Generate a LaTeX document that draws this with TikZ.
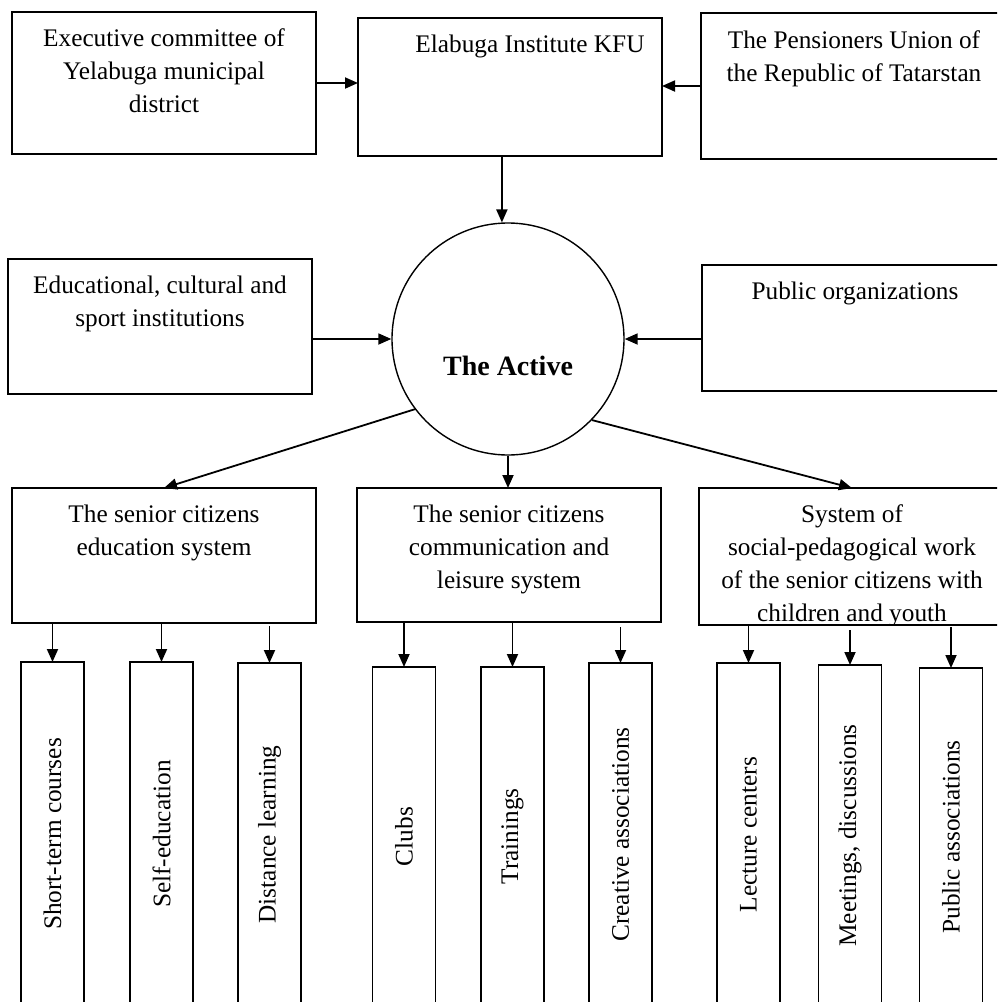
\documentclass[tikz,border=0pt]{standalone}
\usepackage{fontspec}
\setmainfont{Liberation Serif}
\usetikzlibrary{arrows.meta,calc}
\newcommand{\bxt}[4]{\parbox[t][#2][t]{#1}{\centering\rule{0pt}{#3}#4}}
\begin{document}
\begin{tikzpicture}[x=1pt,y=-1pt,
  txt/.style={font=\fontsize{25.3}{33}\selectfont},
  box/.style={draw, line width=1.8pt, inner sep=0pt, outer sep=0pt, anchor=north west, txt},
  vbox/.style={draw, line width=1.8pt, inner sep=0pt, outer sep=0pt, rotate=90, minimum height=63pt, txt},
  arr/.style={line width=1.8pt, -{Triangle[length=13pt,width=11pt]}}
]
\useasboundingbox (0,0) rectangle (997,1002);
\clip (0,0) rectangle (997,1002);

% top row
\node[box] (A) at (12,12) {\bxt{304pt}{142pt}{34pt}{Executive committee of\\Yelabuga municipal\\district}};
\node[box] (B) at (358,18) {\bxt{304pt}{138pt}{34pt}{\hspace*{40pt}Elabuga Institute KFU}};
\node[box] (C) at (701,13) {\bxt{306pt}{146pt}{35pt}{The Pensioners Union of\\the Republic of Tatarstan}};

% middle row
\node[box] (D) at (8,259) {\bxt{304pt}{135pt}{34pt}{Educational, cultural and\\sport institutions}};
\node[box] (E) at (702,265) {\bxt{306pt}{126pt}{34pt}{Public organizations}};
\node[circle, draw, line width=1.4pt, minimum size=232pt, inner sep=0pt,
      font=\bfseries\fontsize{28}{33}\selectfont] (circ) at (508,339)
      {\raisebox{-36pt}[0pt][0pt]{The Active}};

% systems row
\node[box] (F) at (12,488) {\bxt{304pt}{135pt}{34pt}{The senior citizens\\education system}};
\node[box] (G) at (357,488) {\bxt{304pt}{134pt}{34pt}{The senior citizens\\communication and\\leisure system}};
\node[box, minimum width=306pt, minimum height=137pt,
      path picture={\node[anchor=north, inner sep=0pt, txt] at (path picture bounding box.north)
        {\parbox[t]{306pt}{\centering\rule{0pt}{34pt}System of\\social-pedagogical work\\of the senior citizens with\\children and youth}};}]
      (H) at (699,488) {};

% bottom vertical boxes
\node[vbox, minimum width=344pt] (b1) at (52.5,834) {Short-term courses};
\node[vbox, minimum width=344pt] (b2) at (161.5,834) {Self-education};
\node[vbox, minimum width=343pt] (b3) at (269.5,834.5) {Distance learning};
\node[vbox, minimum width=339pt] (b4) at (404,836.5) {Clubs};
\node[vbox, minimum width=339pt] (b5) at (512.5,836.5) {Trainings};
\node[vbox, minimum width=343pt] (b6) at (620.5,834.5) {Creative associations};
\node[vbox, minimum width=343pt] (b7) at (748.5,834.5) {Lecture centers};
\node[vbox, minimum width=341pt] (b8) at (850,835.5) {Meetings, discussions};
\node[vbox, minimum width=338pt] (b9) at (951,837) {Public associations};

% connectors
\draw[arr] (A.east) -- (A.east -| B.west);
\draw[arr] (C.west) -- (C.west -| B.east);
\draw[arr] (circ.93 |- B.south) -- (circ.93);
\draw[arr] (D.east |- circ.west) -- (circ.west);
\draw[arr] (E.west |- circ.east) -- (circ.east);
\draw[arr] (circ.217) -- (F.north);
\draw[arr] (circ.south) -- (circ.south |- G.north);
\draw[arr] (circ.316) -- (H.north);

\draw[arr] (b1.east |- F.south) -- (b1.east);
\draw[arr] (b2.east |- F.south) -- (b2.east);
\draw[arr, shorten <=3pt] (b3.east |- F.south) -- (b3.east);
\draw[arr] (b4.east |- G.south) -- (b4.east);
\draw[arr] (b5.east |- G.south) -- (b5.east);
\draw[arr, shorten <=5pt] (b6.east |- G.south) -- (b6.east);
\draw[arr] (b7.east |- H.south) -- (b7.east);
\draw[arr, shorten <=5pt] (b8.east |- H.south) -- (b8.east);
\draw[arr, shorten <=2pt] (b9.east |- H.south) -- (b9.east);
\end{tikzpicture}
\end{document}
